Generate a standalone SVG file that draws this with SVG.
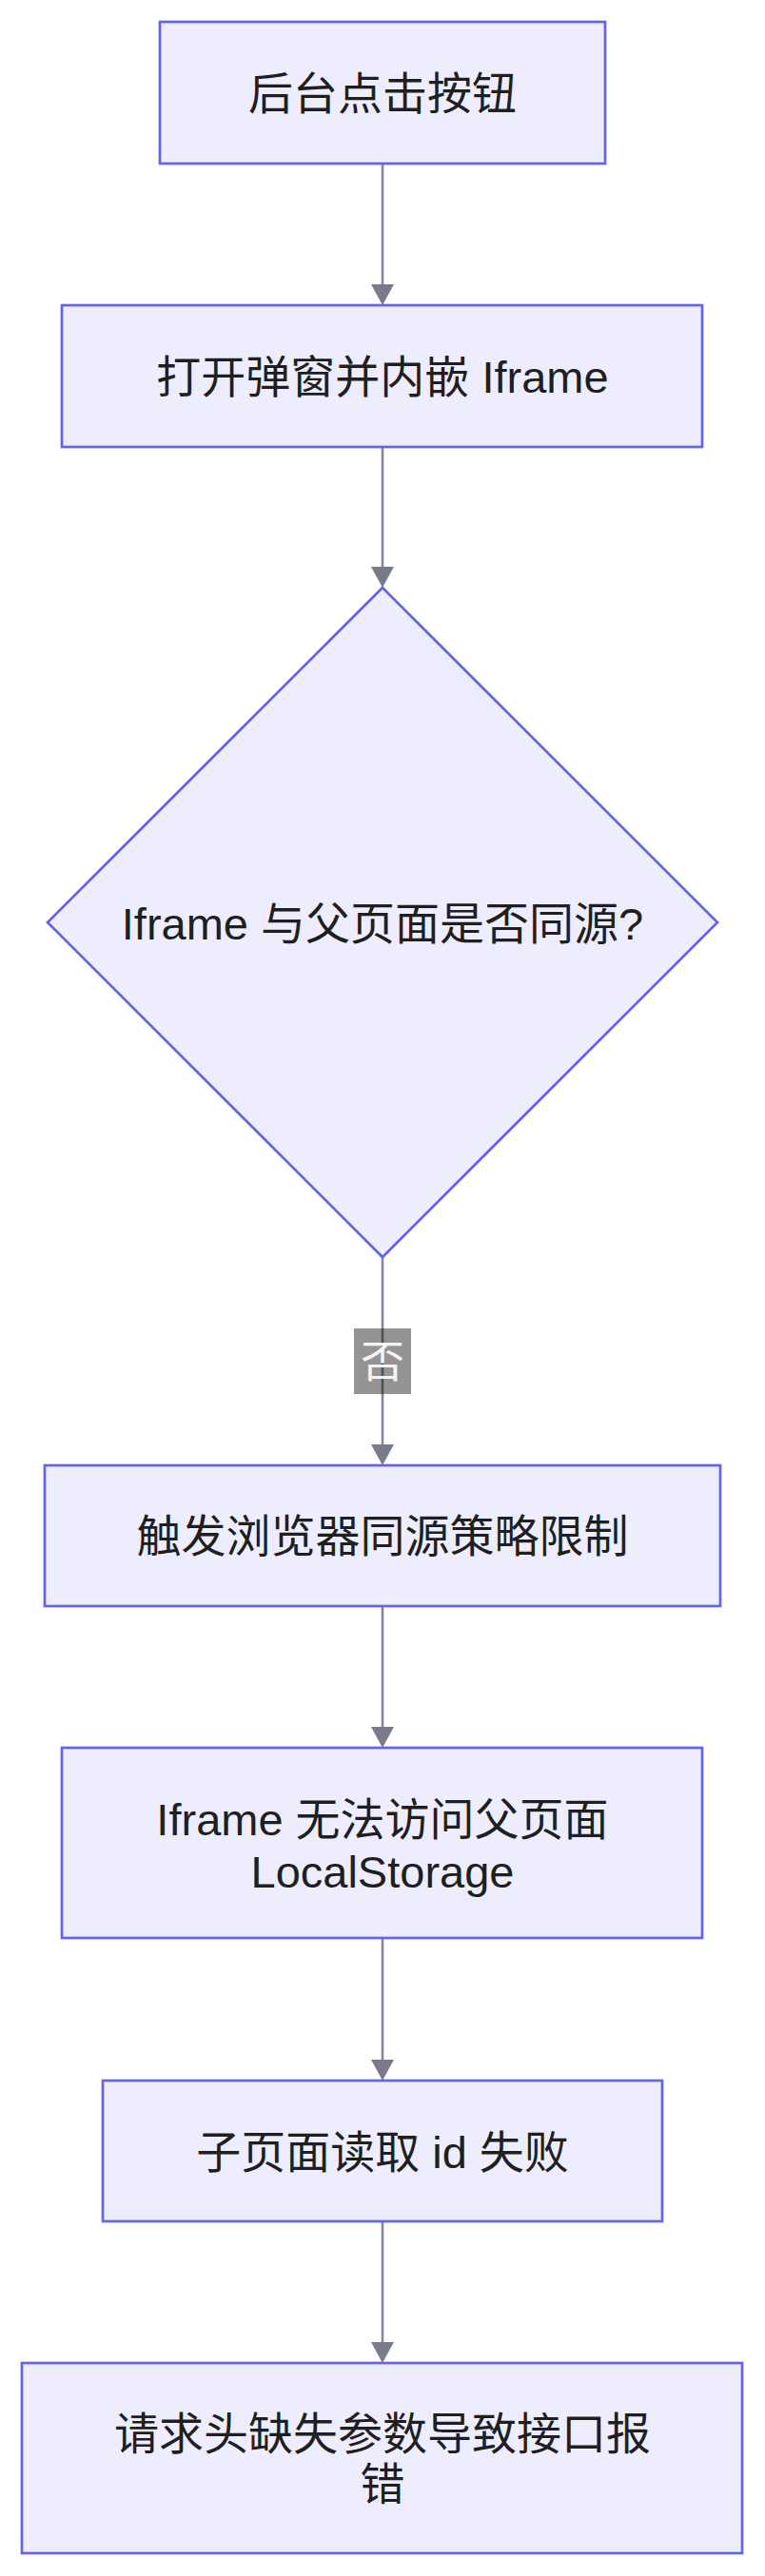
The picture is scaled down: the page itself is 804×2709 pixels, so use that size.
<svg xmlns="http://www.w3.org/2000/svg" width="804" height="2709" viewBox="0 0 804 2709">
<style>
.node{fill:#ededfd;stroke:#6363ee;stroke-width:2.7}
.lbl{font-family:"Liberation Sans","Noto Sans CJK SC",sans-serif;font-size:47px;fill:#1f1f1f;text-anchor:middle}
.edge{stroke:#878896;stroke-width:2.6;fill:none}
.elbl{font-family:"Liberation Sans","Noto Sans CJK SC",sans-serif;font-size:46px;fill:#f4f4f4;text-anchor:middle}
</style>
<defs>
<marker id="arr" viewBox="0 0 22 24" markerWidth="22" markerHeight="24" refX="12" refY="12" orient="auto" markerUnits="userSpaceOnUse">
<path d="M0,0 L22,12 L0,24 Z" fill="#797b8b"/>
</marker>
</defs>
<rect width="804" height="2709" fill="#ffffff"/>
<g id="connectors">
<line class="edge" x1="402" y1="172" x2="402" y2="311" marker-end="url(#arr)"/>
<line class="edge" x1="402" y1="470" x2="402" y2="608" marker-end="url(#arr)"/>
<line class="edge" x1="402" y1="1322" x2="402" y2="1531" marker-end="url(#arr)"/>
<line class="edge" x1="402" y1="1689" x2="402" y2="1828" marker-end="url(#arr)"/>
<line class="edge" x1="402" y1="2038" x2="402" y2="2178" marker-end="url(#arr)"/>
<line class="edge" x1="402" y1="2336" x2="402" y2="2475" marker-end="url(#arr)"/>
<g id="edge-label-no">
<rect x="372" y="1397" width="60" height="69" fill="#000000" fill-opacity="0.42"/>
<text class="elbl" x="402" y="1448">否</text>
</g>
</g>
<g id="n1">
<rect class="node" x="168" y="23" width="468" height="149"/>
<text class="lbl" x="402" y="115">后台点击按钮</text>
</g>
<g id="n2">
<rect class="node" x="65" y="321" width="673" height="149"/>
<text class="lbl" x="402" y="413">打开弹窗并内嵌 Iframe</text>
</g>
<g id="n3">
<polygon class="node" points="402,618 754,970 402,1322 50,970"/>
<text class="lbl" x="402" y="988">Iframe 与父页面是否同源?</text>
</g>
<g id="n4">
<rect class="node" x="47" y="1541" width="710" height="148"/>
<text class="lbl" x="402" y="1632">触发浏览器同源策略限制</text>
</g>
<g id="n5">
<rect class="node" x="65" y="1838" width="673" height="200"/>
<text class="lbl" x="402" y="1930"><tspan x="402" y="1930">Iframe 无法访问父页面</tspan><tspan x="402" y="1985">LocalStorage</tspan></text>
</g>
<g id="n6">
<rect class="node" x="108" y="2188" width="588" height="148"/>
<text class="lbl" x="402" y="2280">子页面读取 id 失败</text>
</g>
<g id="n7">
<rect class="node" x="23" y="2485" width="757" height="200"/>
<text class="lbl" x="402" y="2576"><tspan x="402" y="2576">请求头缺失参数导致接口报</tspan><tspan x="402" y="2629">错</tspan></text>
</g>
</svg>
